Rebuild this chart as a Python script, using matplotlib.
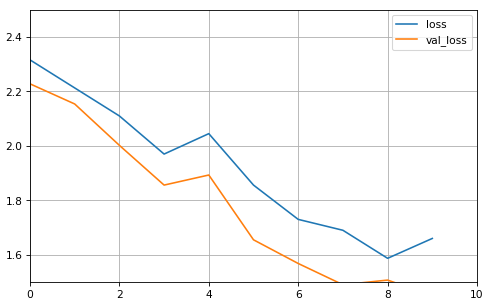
import matplotlib
matplotlib.use('Agg')
import matplotlib.pyplot as plt
import numpy as np

epochs = [0, 1, 2, 3, 4, 5, 6, 7, 8, 9]
loss = [2.316, 2.213, 2.110, 1.970, 2.045, 1.856, 1.730, 1.690, 1.587, 1.660]
val_loss = [2.228, 2.154, 2.002, 1.856, 1.893, 1.655, 1.568, 1.490, 1.507, 1.450]

dpi = 490 / 6.4
fig = plt.figure(figsize=(6.4, 4), dpi=dpi)
ax = fig.add_axes([0.0612, 0.0784, 0.9123, 0.8888])
ax.plot(epochs, loss, label='loss')
ax.plot(epochs, val_loss, label='val_loss')
ax.set_xlim(0, 10)
ax.set_ylim(1.5, 2.5)
ax.set_xticks([0, 2, 4, 6, 8, 10])
ax.set_yticks([1.6, 1.8, 2.0, 2.2, 2.4])
ax.grid(True)
ax.legend(loc='upper right')
fig.savefig('out.png', dpi=dpi)
